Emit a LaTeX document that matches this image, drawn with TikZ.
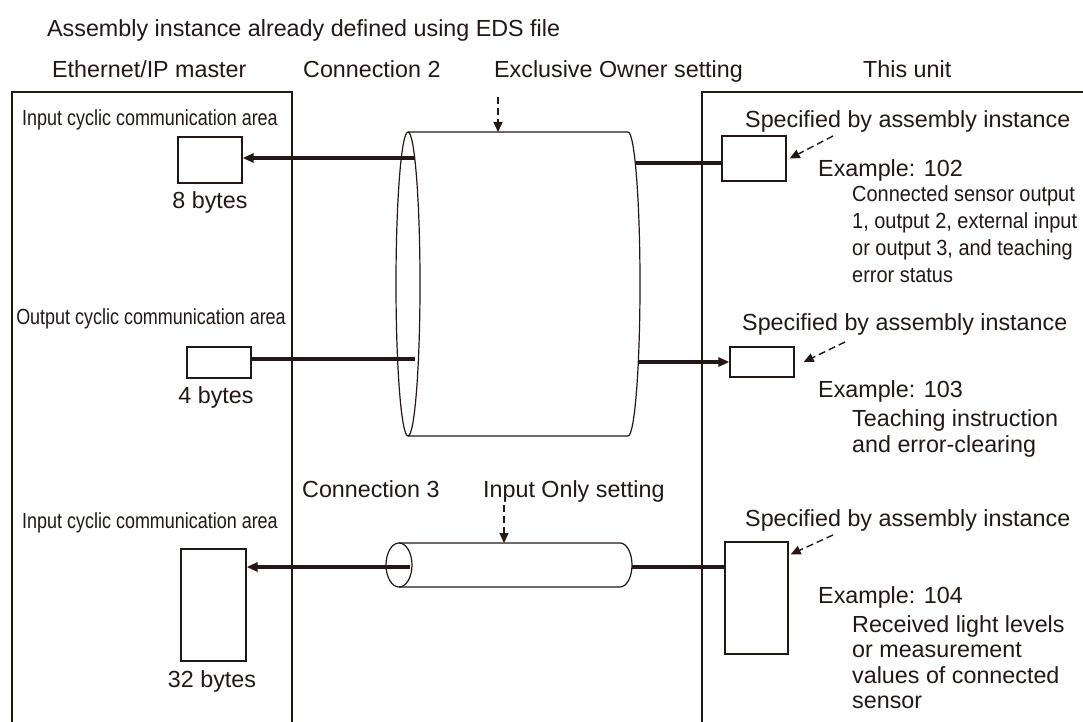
\documentclass[tikz,border=0pt]{standalone}
\usepackage{fontspec}
\setmainfont{Liberation Sans}
\newfontfamily\narrowA[FakeStretch=0.82]{Liberation Sans}
\newfontfamily\narrowB[FakeStretch=0.91]{Liberation Sans}
\usetikzlibrary{arrows.meta}
\definecolor{ink}{RGB}{35,24,21}
\begin{document}
\begin{tikzpicture}[x=1pt,y=-1pt,
  every node/.style={text=ink, inner sep=0pt},
  lbl/.style={font=\fontsize{23.3}{27}\selectfont, anchor=base west},
  nlbl/.style={font=\narrowA\fontsize{21.9}{27}\selectfont, anchor=base},
  dlbl/.style={font=\narrowB\fontsize{21.9}{27}\selectfont, anchor=base west},
  frame/.style={draw=ink, line width=2pt},
  cell/.style={draw=ink, line width=1.3pt, fill=white},
  flow/.style={draw=ink, line width=3.3pt},
  tip/.style={-{Triangle[length=11pt,width=9pt]}},
  hint/.style={draw=ink, line width=1.4pt, dash pattern=on 7pt off 4pt, -{Triangle[length=10pt,width=9pt]}},
  cyl/.style={draw=ink, line width=1.2pt},
]
\useasboundingbox (0,0) rectangle (1083,722);
\fill[white] (0,0) rectangle (1083,722);

% frames
\draw[frame] (12,726) -- (12,92) -- (292,92) -- (292,726);
\draw[frame] (702,726) -- (702,92) -- (1087,92);

% header texts
\node[lbl] (title) at (47,37) {Assembly instance already defined using EDS file};
\node[lbl] (master) at (52,78) {Ethernet/IP master};
\node[lbl] (conn2) at (303,78) {Connection 2};
\node[lbl] (eo) at (494,78) {Exclusive Owner setting};
\node[lbl] (unit) at (863,78) {This unit};

% left panel
\node[nlbl] (in1) at (150,126) {Input cyclic communication area};
\node[cell, minimum width=64, minimum height=46] (b8) at (210,160) {};
\node[lbl, anchor=base] (t8) at (210,208) {8 bytes};
\node[nlbl] (out) at (151,324) {Output cyclic communication area};
\node[cell, minimum width=64, minimum height=31] (b4) at (219,362.5) {};
\node[lbl, anchor=base] (t4) at (216,403) {4 bytes};
\node[nlbl] (in3) at (150,528) {Input cyclic communication area};
\node[cell, minimum width=65, minimum height=112] (b32) at (213.5,605) {};
\node[lbl, anchor=base] (t32) at (212,687) {32 bytes};

% right panel
\node[lbl] (sp1) at (745,128) {Specified by assembly instance};
\node[cell, minimum width=64, minimum height=45] (b102) at (754,158.5) {};
\node[lbl] (ex102) at (818,176) {Example: 102};
\node[dlbl] (d102a) at (852,201) {Connected sensor output};
\node[dlbl] (d102b) at (852,228) {1, output 2, external input};
\node[dlbl] (d102c) at (852,255) {or output 3, and teaching};
\node[dlbl] (d102d) at (852,282) {error status};

\node[lbl] (sp2) at (742,330) {Specified by assembly instance};
\node[cell, minimum width=64, minimum height=30] (b103) at (762,362) {};
\node[lbl] (ex103) at (818,397) {Example: 103};
\node[lbl] (d103a) at (852,426) {Teaching instruction};
\node[lbl] (d103b) at (852,452) {and error-clearing};

\node[lbl] (sp3) at (745,526) {Specified by assembly instance};
\node[cell, minimum width=63, minimum height=112] (b104) at (756.5,598) {};
\node[lbl] (ex104) at (818,603) {Example: 104};
\node[lbl] (d104a) at (852,632) {Received light levels};
\node[lbl] (d104b) at (852,657) {or measurement};
\node[lbl] (d104c) at (852,683) {values of connected};
\node[lbl] (d104d) at (852,708) {sensor};

% connection 3 labels
\node[lbl] (conn3) at (302,497) {Connection 3};
\node[lbl] (io) at (483,497) {Input Only setting};

% big cylinder (connection 2)
\draw[cyl] (408,284) ellipse[x radius=12, y radius=152];
\draw[cyl] (408,132) -- (628,132) arc[start angle=-90, end angle=90, x radius=12, y radius=152] -- (408,436);
% small cylinder (connection 3)
\draw[cyl] (399,565) ellipse[x radius=13, y radius=22];
\draw[cyl] (399,543) -- (620,543) arc[start angle=-90, end angle=90, x radius=12, y radius=22] -- (399,587);

% connector end points on the cylinders
\coordinate (c2a) at (415,158);
\coordinate (c2b) at (635,163);
\coordinate (c2c) at (415,359);
\coordinate (c2d) at (638,362);
\coordinate (c3a) at (410,567);
\coordinate (c3b) at (632,567);
\coordinate (c2top) at (498,132);
\coordinate (c3top) at (504,543);
\coordinate (h2src) at (498,97);
\coordinate (h3src) at (504,505);
\coordinate (h102) at (833,136);
\coordinate (h103) at (845,342);
\coordinate (h104) at (833,535);

% data flows
\draw[flow, tip] (c2a) -- (c2a -| b8.east);
\draw[flow] (c2b) -- (c2b -| b102.west);
\draw[flow] (c2c) -- (c2c -| b4.east);
\draw[flow, tip] (c2d) -- (c2d -| b103.west);
\draw[flow, tip] (c3a) -- (c3a -| b32.east);
\draw[flow] (c3b) -- (c3b -| b104.west);

% dashed pointers
\draw[hint] (h2src) -- (c2top);
\draw[hint] (h3src) -- (c3top);
\draw[hint] (h102) -- ([xshift=3pt]b102.east);
\draw[hint] (h103) -- ([xshift=9pt]b103.east);
\draw[hint] (h104) -- ([shift={(2pt,-13pt)}]b104.north east);
\end{tikzpicture}
\end{document}
